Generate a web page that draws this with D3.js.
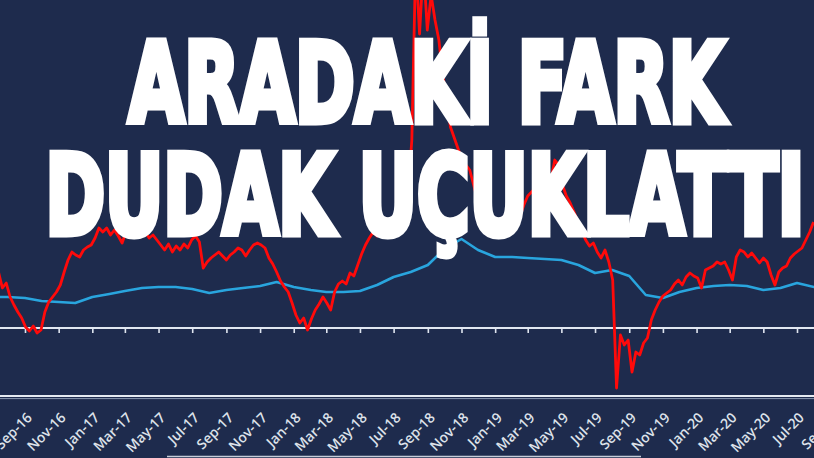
<!DOCTYPE html>
<html>
<head>
<meta charset="utf-8">
<script src="https://cdn.jsdelivr.net/npm/d3@7"></script>
<style>
  html, body { margin: 0; padding: 0; background: #1e2b4d; }
  svg { display: block; }
</style>
</head>
<body>
<svg id="chart" width="814" height="458"></svg>
<script>
// ---- DATA ----
const tickLabels = ["Sep-16","Nov-16","Jan-17","Mar-17","May-17","Jul-17","Sep-17","Nov-17",
  "Jan-18","Mar-18","May-18","Jul-18","Sep-18","Nov-18","Jan-19","Mar-19","May-19","Jul-19",
  "Sep-19","Nov-19","Jan-20","Mar-20","May-20","Jul-20","Sep-20"];

// weekly series (red), first week starting 15 Jul 2016
const redStart = "2016-07-15";
const redValues = [
  5.6,4.0,4.5,3.1,2.3,1.6,1.0,0.1,-0.3,0.2,-0.5,-0.2,1.6,2.6,3.1,3.6,4.3,5.6,6.8,7.6,
  7.3,7.1,7.8,8.1,8.3,9.0,10.0,9.6,10.0,9.3,9.8,9.2,8.5,9.6,10.0,9.3,9.8,9.2,9.6,9.0,
  9.3,8.8,8.3,7.8,8.4,7.6,8.2,7.8,8.4,8.0,8.8,9.2,8.6,6.0,6.6,7.0,7.3,7.6,7.2,6.8,
  7.3,7.6,8.0,7.8,7.2,7.8,8.3,8.5,8.3,8.0,7.0,6.4,5.6,4.7,4.1,3.6,2.5,1.3,0.5,1.0,
  -0.2,0.9,1.8,2.4,3.1,2.5,1.8,3.6,4.4,4.7,4.4,5.5,5.2,6.3,7.4,8.3,9.0,9.6,9.2,10.0,
  10.3,9.8,10.6,11.0,10.6,11.8,13.3,18.8,36.8,29.4,36.3,29.8,33.3,30.8,28.8,25.3,22.8,20.1,19.0,17.9,
  16.8,16.3,15.8,14.3,12.8,11.3,10.2,9.9,10.3,9.9,10.3,10.0,10.4,10.1,10.6,11.2,12.3,13.2,13.6,14.0,
  13.4,13.9,13.5,14.8,16.8,16.3,14.3,13.2,12.5,11.6,10.6,9.7,8.8,8.2,8.5,7.6,7.0,7.8,6.6,4.8,
  -6.0,-0.7,-1.7,-1.2,-4.4,-2.4,-2.7,-1.5,-1.0,0.8,1.8,2.6,3.2,3.5,3.8,4.4,4.8,4.3,5.1,5.5,
  5.2,5.0,4.0,5.8,6.0,6.2,6.6,6.4,6.6,5.8,4.8,7.1,7.8,7.6,7.1,7.5,7.0,6.5,7.0,6.6,
  5.3,4.3,5.6,6.0,6.2,7.0,7.4,7.7,8.0,8.8,9.6,10.6
];

// monthly series (blue), Jul-16 .. Sep-20
const blueStart = "2016-07-01";
const blueValues = [
  3.1,3.1,3.0,2.7,2.6,2.5,3.1,3.4,3.7,4.0,4.1,4.1,3.9,3.5,3.8,4.0,4.2,4.6,4.1,3.8,
  3.6,3.6,3.7,4.3,5.1,5.6,6.3,7.9,8.9,7.8,7.1,7.1,7.0,6.9,6.8,6.3,5.5,5.8,5.2,3.3,
  3.0,3.6,4.0,4.2,4.3,4.2,3.8,4.0,4.5,4.1,4.0
];

const titleLines = ["ARADAKİ FARK", "DUDAK UÇUKLATTI"];

// ---- CHART ----
const W = 814, H = 458;
const svg = d3.select("#chart");
svg.append("rect").attr("width", W).attr("height", H).attr("fill", "#1e2b4d");

const parseTick = d3.timeParse("%b-%y");
const parseDay = d3.timeParse("%Y-%m-%d");
const tickDates = tickLabels.map(parseTick);

const x = d3.scaleTime()
  .domain([parseTick("Sep-16"), parseTick("Jul-20")])
  .range([25, 797]);
const y = d3.scaleLinear().domain([0, 10]).range([328, 228]);

const r0 = parseDay(redStart);
const redData = redValues.map((v, i) => ({ d: d3.timeDay.offset(r0, 7 * i), v }));
const b0 = parseDay(blueStart);
const blueData = blueValues.map((v, i) => ({ d: d3.timeMonth.offset(b0, i), v }));

// zero axis with ticks
const zeroAxis = svg.append("g")
  .attr("transform", `translate(0,${y(0)})`)
  .call(d3.axisBottom(x).tickValues(tickDates).tickSize(5).tickFormat(""));
zeroAxis.select(".domain").remove();
zeroAxis.selectAll(".tick line").attr("stroke", "#dfe5ef").attr("stroke-width", 1.6);
svg.append("line")
  .attr("x1", 0).attr("x2", W).attr("y1", y(0)).attr("y2", y(0))
  .attr("stroke", "#e1e7f1").attr("stroke-width", 2.2);

// lines
const line = d3.line().x(d => x(d.d)).y(d => y(d.v));
svg.append("path").datum(blueData)
  .attr("d", line).attr("fill", "none")
  .attr("stroke", "#29a5de").attr("stroke-width", 2.6)
  .attr("stroke-linejoin", "round");
svg.append("path").datum(redData)
  .attr("d", line).attr("fill", "none")
  .attr("stroke", "#ff0a0a").attr("stroke-width", 2.8)
  .attr("stroke-linejoin", "round");

// bottom label axis
const labAxis = svg.append("g")
  .attr("transform", "translate(0,396)")
  .call(d3.axisBottom(x).tickValues(tickDates).tickSize(0).tickFormat((d, i) => tickLabels[i]));
labAxis.select(".domain")
  .attr("d", `M0,0H${W}`)
  .attr("stroke", "#e6eaf1").attr("stroke-width", 2);
labAxis.append("line").attr("x1", 0).attr("x2", W).attr("y1", 2.6).attr("y2", 2.6)
  .attr("stroke", "#8c98b0").attr("stroke-width", 1);
labAxis.selectAll(".tick text")
  .attr("x", 0).attr("y", 0).attr("dy", "0.35em")
  .attr("text-anchor", "end")
  .attr("transform", "translate(4,19) rotate(-45)")
  .attr("fill", "#dde2ea")
  .attr("font-family", "'Open Sans', Lato, sans-serif")
  .attr("font-weight", 600)
  .attr("font-size", 14);

// faint line near bottom edge
svg.append("line").attr("x1", 167).attr("x2", 641).attr("y1", 456.5).attr("y2", 456.5)
  .attr("stroke", "#c6cdd9").attr("stroke-width", 1.5);

// title
const titleSpecs = [
  { x: 128.5, y: 121.5, len: 596 },
  { x: 45.5, y: 233.5, len: 759 }
];
svg.selectAll("text.title").data(titleLines).join("text")
  .attr("class", "title")
  .attr("x", (d, i) => titleSpecs[i].x)
  .attr("y", (d, i) => titleSpecs[i].y)
  .attr("textLength", (d, i) => titleSpecs[i].len)
  .attr("lengthAdjust", "spacingAndGlyphs")
  .attr("font-family", "'DejaVu Sans Condensed', 'DejaVu Sans', sans-serif")
  .attr("font-stretch", "condensed")
  .attr("font-weight", "bold")
  .attr("font-size", 110)
  .attr("fill", "#ffffff")
  .attr("stroke", "#ffffff")
  .attr("stroke-width", 7)
  .attr("stroke-linejoin", "miter")
  .text(d => d);
</script>
</body>
</html>
